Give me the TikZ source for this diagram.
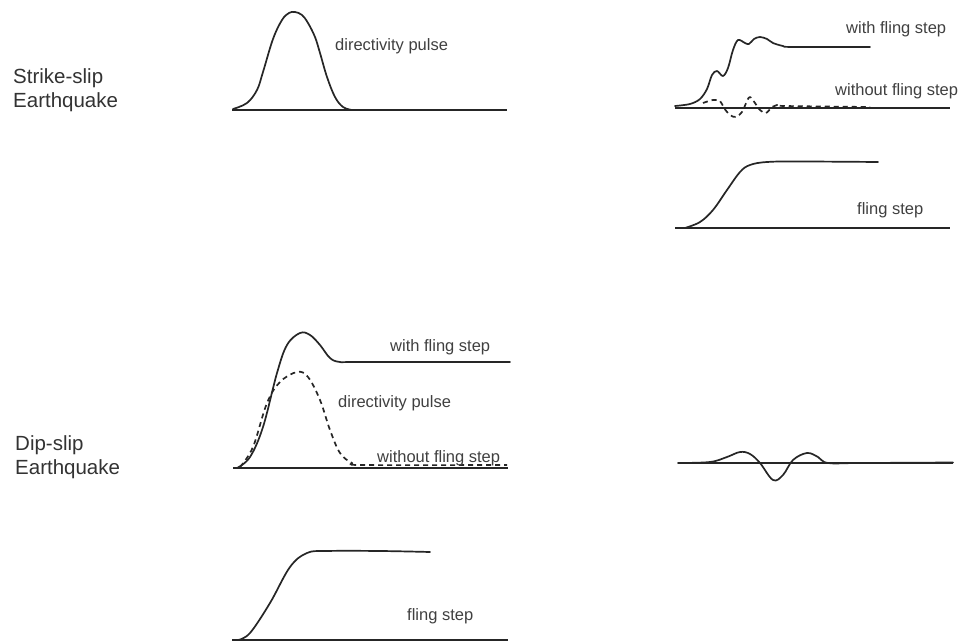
\documentclass[tikz,border=0pt]{standalone}
\usepackage{fontspec}
\setmainfont{Liberation Sans}
\begin{document}
\begin{tikzpicture}[x=1pt,y=-1pt,
  curve/.style={line width=1.7pt,draw=black!85,line join=round,line cap=round},
  dcurve/.style={curve,dash pattern=on 5pt off 4pt,line cap=butt},
  axisline/.style={line width=1.5pt,draw=black!85},
  lab/.style={anchor=base west,inner sep=0pt,text=black!75,font=\fontsize{16.5}{18}\selectfont},
  biglab/.style={anchor=base west,inner sep=0pt,text=black!80,font=\fontsize{20.5}{24}\selectfont}]
\useasboundingbox (0,0) rectangle (962,644);
\fill[white] (0,0) rectangle (962,644);

% row labels
\node[biglab] (ss1) at (13,84) {Strike-slip};
\node[biglab] (ss2) at (13,108) {Earthquake};
\node[biglab] (ds1) at (15,450) {Dip-slip};
\node[biglab] (ds2) at (15,475) {Earthquake};

% panel 1: strike-slip directivity pulse
\draw[axisline] (232,110) -- (507,110);
\draw[curve] plot[smooth,tension=0.6] coordinates {(233,109) (247,103) (257,90) (263,72) (273,39) (282,20) (289,13) (295,12) (302,15) (308,23) (315,37) (320,53) (327,77) (335,97) (343,107) (352,110)};
\node[lab] (t1) at (335,51) {directivity pulse};

% panel 2: strike-slip with/without fling step
\draw[axisline] (675,108) -- (950,108);
\draw[curve] plot[smooth,tension=0.55] coordinates {(675,106) (690,104) (700,99) (707,89) (712,75) (717,71) (723,76) (728,68) (733,50) (738,40) (745,43) (749,44) (754,39) (760,37) (767,39) (773,43) (783,46) (793,47) (870,47)};
\draw[dcurve] plot[smooth,tension=0.55] coordinates {(703,103) (713,100) (720,101) (724,108) (730,115) (736,117) (742,112) (747,101) (750,97) (755,103) (760,110) (766,113) (772,107) (777,105) (785,106) (870,107)};
\node[lab] (t2) at (846,34) {with fling step};
\node[lab] (t3) at (835,96) {without fling step};

% panel 3: strike-slip fling step
\draw[axisline] (675,228) -- (950,228);
\draw[curve] plot[smooth,tension=0.6] coordinates {(685,228) (700,222) (713,210) (727,190) (740,172) (750,165) (767,162) (800,161.5) (878,162)};
\node[lab] (t4) at (857,215) {fling step};

% panel 4: dip-slip with/without fling step
\draw[axisline] (233,468) -- (508,468);
\draw[curve] plot[smooth,tension=0.6] coordinates {(237,468) (250,457) (263,427) (277,373) (287,345) (300,333) (310,335) (320,345) (330,358) (340,362) (360,362) (510,362)};
\draw[dcurve] plot[smooth,tension=0.6] coordinates {(240,467) (253,447) (267,403) (280,382) (297,372) (308,377) (320,400) (330,430) (340,453) (352,463) (362,465) (507,465)};
\node[lab] (t5) at (390,352) {with fling step};
\node[lab] (t6) at (338,408) {directivity pulse};
\node[lab] (t7) at (377,463) {without fling step};

% panel 5: dip-slip without fling
\draw[axisline] (678,463) -- (953,463);
\draw[curve] plot[smooth,tension=0.6] coordinates {(678,463) (710,462) (727,457) (740,452) (750,454) (760,463) (773,480) (783,475) (793,460) (807,453) (818,457) (828,463) (860,463) (953,462.5)};

% panel 6: dip-slip fling step
\draw[axisline] (232,640) -- (508,640);
\draw[curve] plot[smooth,tension=0.6] coordinates {(238,640) (250,633) (270,603) (290,567) (307,553) (327,551) (380,551) (430,552)};
\node[lab] (t8) at (407,620) {fling step};
\end{tikzpicture}
\end{document}
